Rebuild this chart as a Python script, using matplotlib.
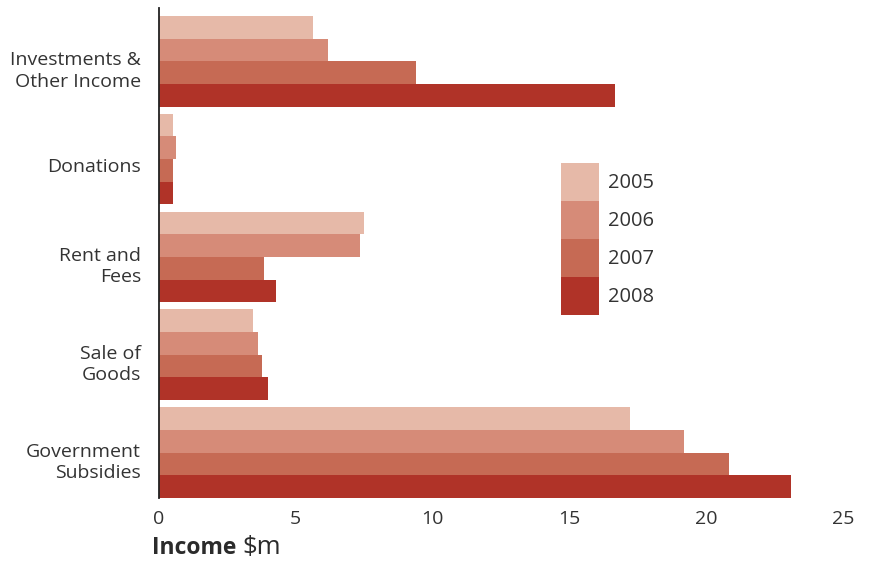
import matplotlib
matplotlib.use("Agg")
import matplotlib.pyplot as plt
import matplotlib.transforms as mtransforms
import numpy as np

plt.rcParams['font.family'] = ['Open Sans', 'DejaVu Sans']

categories = ["Investments &\nOther Income", "Donations", "Rent and\nFees", "Sale of\nGoods", "Government\nSubsidies"]
years = ["2005", "2006", "2007", "2008"]
values = {
    "2005": [5.63, 0.50, 7.49, 3.44, 17.20],
    "2006": [6.18, 0.61, 7.35, 3.62, 19.20],
    "2007": [9.39, 0.50, 3.84, 3.76, 20.85],
    "2008": [16.67, 0.50, 4.28, 3.98, 23.10],
}
colors = ["#E6B9A8", "#D68B78", "#C66A54", "#B03328"]
xticks = [0, 5, 10, 15, 20, 25]

W, H = 869, 562
fig = plt.figure(figsize=(W/100, H/100), dpi=100)
ax = fig.add_axes([159/W, 1-498/H, (843-159)/W, (498-8)/H])

h = 0.2316
y = np.arange(len(categories))
for i, yr in enumerate(years):
    ax.barh(y + (i-1.5)*h, values[yr], height=h, color=colors[i], label=yr, linewidth=0)

ax.set_xlim(0, 25)
ax.set_ylim(len(categories)-1 + 2*h, -2*h - 0.081)
ax.set_xticks(xticks)
ax.set_xticklabels([str(t) for t in xticks])
ax.set_yticks(y)
ax.set_yticklabels(categories, linespacing=1.25)
ax.tick_params(axis='both', length=0, labelsize=14, colors='#333333')
ax.tick_params(axis='y', pad=13)
ax.tick_params(axis='x', pad=9)
offset = mtransforms.ScaledTranslation(0, -6/100, fig.dpi_scale_trans)
for lab in ax.get_yticklabels():
    lab.set_horizontalalignment('right')
    lab.set_transform(lab.get_transform() + offset)
for s in ['top', 'right', 'bottom']:
    ax.spines[s].set_visible(False)
ax.spines['left'].set_color('#222222')
ax.spines['left'].set_linewidth(1.3)

leg = ax.legend(loc='upper left', bbox_to_anchor=(561/W, 1-163/H), bbox_transform=fig.transFigure,
                frameon=False, fontsize=14.5, handlelength=1.9, handleheight=2.52,
                labelspacing=0, borderpad=0, borderaxespad=0, handletextpad=0.45)
for t in leg.get_texts():
    t.set_color('#333333')

t1 = fig.text(152/W, 1-554/H, "Income", fontsize=16.5, fontweight='bold', color='#2b2b2b', va='baseline', ha='left')
fig.canvas.draw()
bb = t1.get_window_extent()
fig.text((bb.x1 + 6)/W, 1-554/H, "$m", fontsize=18.5, color='#2b2b2b', va='baseline', ha='left')

fig.savefig("out.png", dpi=100)
